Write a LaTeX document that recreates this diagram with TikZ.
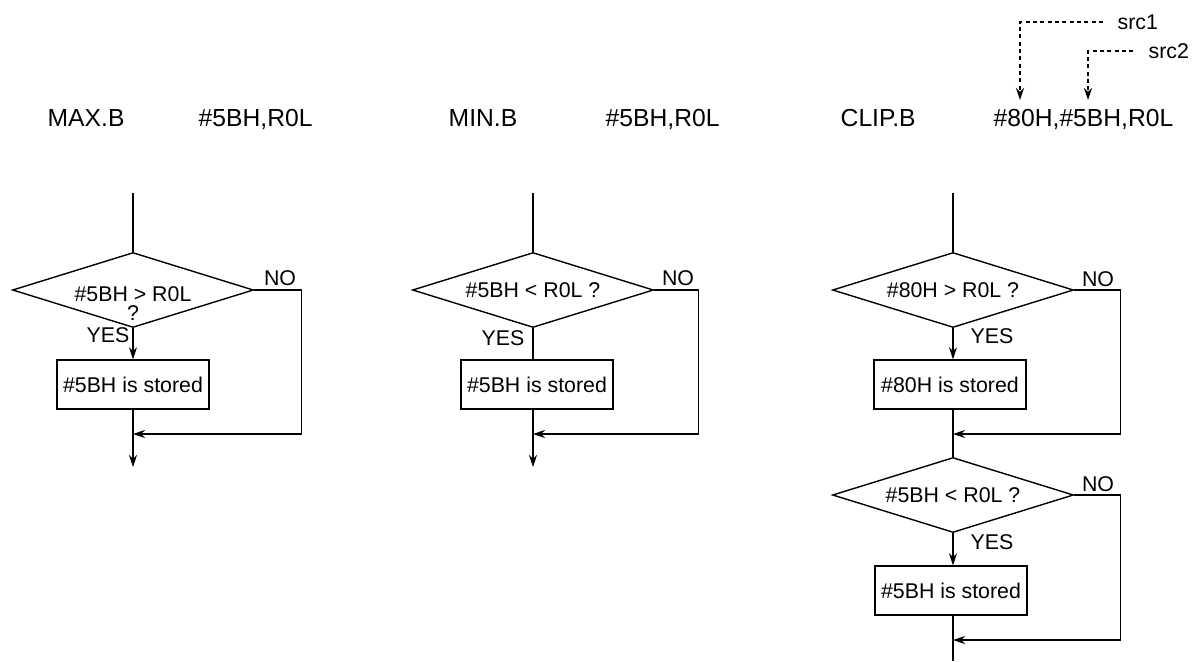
\documentclass[tikz,border=0pt]{standalone}
\usepackage{fontspec}
\setmainfont{Liberation Sans}
\usetikzlibrary{arrows.meta,positioning,calc,shapes.geometric}

\begin{document}
\begin{tikzpicture}[
  x=0.75pt, y=-0.75pt,
  line width=1.05pt,
  head/.style={anchor=base west, inner sep=0pt, font=\fontsize{18.5}{22}\selectfont},
  lbl/.style={inner sep=0pt, font=\fontsize{16}{18}\selectfont},
  decision/.style={draw, diamond, aspect=3.2, inner sep=0pt, minimum width=180.75pt, minimum height=56.25pt, font=\fontsize{16}{18}\selectfont},
  process/.style={draw, rectangle, inner sep=0pt, minimum width=114pt, minimum height=36.75pt, font=\fontsize{16}{18}\selectfont},
  arr/.style={-{Stealth[length=9pt, width=6pt]}},
  darr/.style={-{Stealth[length=9pt, width=6pt]}, dash pattern=on 3pt off 2.5pt},
]
\useasboundingbox (0,0) rectangle (1199,661);

% headers
\node[head] (maxop) at (47,126) {MAX.B};
\node[head] (maxarg) at (198,126) {\#5BH,R0L};
\node[head] (minop) at (448,126) {MIN.B};
\node[head] (minarg) at (605,126) {\#5BH,R0L};
\node[head] (clipop) at (840,126) {CLIP.B};
\node[head] (cliparg) at (993,126) {\#80H,\#5BH,R0L};

% src markers
\node[lbl, anchor=west] (src1) at (1117,22) {src1};
\node[lbl, anchor=west] (src2) at (1148,51) {src2};
\coordinate (s1tip) at (1020,100);
\coordinate (s2tip) at (1088,100);
\draw[darr] ([xshift=-10.5pt]src1.west) -| (s1tip);
\draw[darr] ([xshift=-11pt]src2.west) -| (s2tip);

% MAX.B
\coordinate (a0) at (133,193);
\node[decision] (a1) at (133,290) {\raisebox{-23pt}[0pt][0pt]{\shortstack{\#5BH > R0L\\?}}};
\node[process] (a2) at (133,384.5) {\#5BH is stored};
\coordinate (a3) at (133,434);
\coordinate (a4) at (133,467);
\draw (a0) -- (a1.north);
\draw[arr] (a1.south) -- (a2.north);
\draw[arr] (a2.south) -- (a4);
\draw[arr] (a1.east) -- ++(47,0) |- (a3);
\node[lbl] (a1no) at (280,278) {NO};
\node[lbl] (a1yes) at (108,335) {YES};

% MIN.B
\coordinate (b0) at (533,193);
\node[decision] (b1) at (533,290) {\#5BH < R0L ?};
\node[process] (b2) at (537,384.5) {\#5BH is stored};
\coordinate (b3) at (533,434);
\coordinate (b4) at (533,467);
\draw (b0) -- (b1.north);
\draw (b1.south) -- (b1.south |- b2.north);
\draw[arr] (b1.south |- b2.south) -- (b4);
\draw[arr] (b1.east) -- ++(44,0) |- (b3);
\node[lbl] (b1no) at (678,278) {NO};
\node[lbl] (b1yes) at (503,338) {YES};

% CLIP.B
\coordinate (c0) at (953,193);
\node[decision] (c1) at (953,290) {\#80H > R0L ?};
\node[process] (c2) at (950,384.5) {\#80H is stored};
\coordinate (c3) at (953,434);
\node[decision] (c4) at (953,495) {\#5BH < R0L ?};
\node[process] (c5) at (951,590.5) {\#5BH is stored};
\coordinate (c6) at (953,640);
\coordinate (c7) at (953,661);
\draw (c0) -- (c1.north);
\draw[arr] (c1.south) -- (c1.south |- c2.north);
\draw (c1.south |- c2.south) -- (c4.north);
\draw[arr] (c1.east) -- ++(46,0) |- (c3);
\draw[arr] (c4.south) -- (c4.south |- c5.north);
\draw (c4.south |- c5.south) -- (c7);
\draw[arr] (c4.east) -- ++(46,0) |- (c6);
\node[lbl] (c1no) at (1098,279) {NO};
\node[lbl] (c1yes) at (992,336) {YES};
\node[lbl] (c4no) at (1098,484) {NO};
\node[lbl] (c4yes) at (992,542) {YES};
\end{tikzpicture}
\end{document}
